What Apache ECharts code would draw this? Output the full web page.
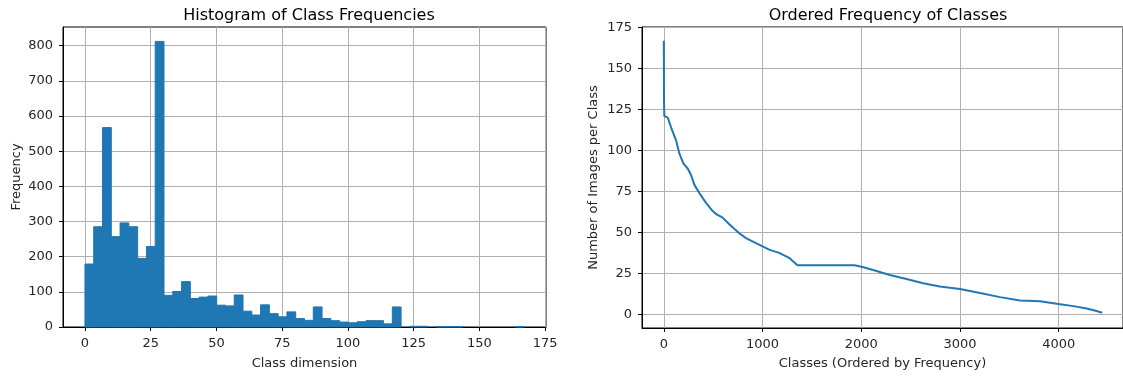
<!DOCTYPE html>
<html>
<head>
<meta charset="utf-8">
<script src="https://cdn.jsdelivr.net/npm/echarts@6/dist/echarts.min.js"></script>
<style>
  html, body { margin: 0; padding: 0; background: #fff; }
  #chart { width: 1123px; height: 376px; }
</style>
</head>
<body>
<div id="chart"></div>
<script>
// histogram: 50 equal bins between binLow and binHigh
var binLow = 0;
var binHigh = 167;
var binCounts = [179, 285, 567, 257, 296, 285, 195, 229, 812, 90,
                 101, 129, 81, 85, 88, 62, 60, 91, 45, 34,
                 63, 38, 29, 43, 24, 19, 57, 24, 18, 14,
                 12, 15, 18, 18, 9, 57, 0, 2, 2, 0,
                 1, 1, 1, 0, 0, 0, 0, 0, 0, 1];
var histXTicks = [0, 25, 50, 75, 100, 125, 150, 175];
var histYTicks = [0, 100, 200, 300, 400, 500, 600, 700, 800];

// ordered frequency curve
var classRank = [0, 2, 5, 40, 57, 74, 125, 158, 199, 242, 276, 310, 360, 428, 495, 535,
                 596, 663, 764, 832, 1000, 1067, 1168, 1269, 1354, 1932, 2002, 2120,
                 2289, 2458, 2627, 2796, 2999, 3202, 3405, 3607, 3810, 3979, 4148, 4283,
                 4384, 4440];
var imagesPerClass = [167, 130, 121, 120, 119, 114, 106, 98, 92, 89, 85, 79, 74, 68, 63, 61,
                      59, 55, 49.5, 46.5, 41.5, 39.5, 37.5, 34.5, 30, 30, 29, 27,
                      24, 21.5, 19, 17, 15.5, 13, 10.5, 8.5, 8, 6.5, 5, 3.5,
                      2, 1];
var rankTicks = [0, 1000, 2000, 3000, 4000];
var freqTicks = [0, 25, 50, 75, 100, 125, 150, 175];

var binW = (binHigh - binLow) / binCounts.length;
var histData = [];
for (var i = 0; i < binCounts.length; i++) {
    if (binCounts[i] > 0) {
        histData.push([binLow + i * binW, binLow + (i + 1) * binW, binCounts[i]]);
    }
}
var lineData = [];
for (var j = 0; j < classRank.length; j++) {
    lineData.push([classRank[j], imagesPerClass[j]]);
}

var font = 'DejaVu Sans';
var txt = '#262626';
var gridLine = { show: true, lineStyle: { color: '#b0b0b0', width: 1 } };

function valAxis(min, max, ticks, extra) {
    var a = {
        type: 'value', min: min, max: max,
        axisLine: { show: true, onZero: false, lineStyle: { color: '#000', width: 1 } },
        axisTick: { show: true, inside: false, length: 4, customValues: ticks, lineStyle: { color: '#000' } },
        axisLabel: { customValues: ticks, color: txt, fontFamily: font, fontSize: 13, margin: 10,
                     formatter: function (v) { return String(v); } },
        splitLine: gridLine,
        nameLocation: 'middle',
        nameTextStyle: { color: txt, fontFamily: font, fontSize: 13 }
    };
    for (var k in extra) a[k] = extra[k];
    return a;
}

var chart = echarts.init(document.getElementById('chart'));
chart.setOption({
    animation: false,
    title: [
        { text: 'Histogram of Class Frequencies', left: 304, top: 3, textAlign: 'center',
          textStyle: { fontFamily: font, fontSize: 16, fontWeight: 'normal', color: '#000' } },
        { text: 'Ordered Frequency of Classes', left: 883, top: 3, textAlign: 'center',
          textStyle: { fontFamily: font, fontSize: 16, fontWeight: 'normal', color: '#000' } }
    ],
    grid: [
        { left: 63, top: 27, width: 483, height: 300, show: true, borderColor: '#000', borderWidth: 1 },
        { left: 642, top: 27, width: 481, height: 301, show: true, borderColor: '#000', borderWidth: 1 }
    ],
    xAxis: [
        valAxis(-8.35, 175.35, histXTicks, { gridIndex: 0, name: 'Class dimension', nameGap: 30 }),
        valAxis(-221, 4651, rankTicks, { gridIndex: 1, name: 'Classes (Ordered by Frequency)', nameGap: 29 })
    ],
    yAxis: [
        valAxis(0, 853, histYTicks, { gridIndex: 0, name: 'Frequency', nameGap: 40 }),
        valAxis(-8.35, 175.35, freqTicks, { gridIndex: 1, name: 'Number of Images per Class', nameGap: 42 })
    ],
    series: [
        {
            type: 'custom', xAxisIndex: 0, yAxisIndex: 0,
            data: histData,
            encode: { x: [0, 1], y: 2 },
            renderItem: function (params, api) {
                var p0 = api.coord([api.value(0), 0]);
                var p1 = api.coord([api.value(1), api.value(2)]);
                return {
                    type: 'rect',
                    shape: { x: p0[0], y: p1[1], width: p1[0] - p0[0], height: p0[1] - p1[1] },
                    style: { fill: '#1f77b4', stroke: '#1f77b4', lineWidth: 1 }
                };
            }
        },
        {
            type: 'line', xAxisIndex: 1, yAxisIndex: 1,
            data: lineData,
            showSymbol: false,
            lineStyle: { color: '#1f77b4', width: 2 },
            itemStyle: { color: '#1f77b4' }
        }
    ]
});
</script>
</body>
</html>
